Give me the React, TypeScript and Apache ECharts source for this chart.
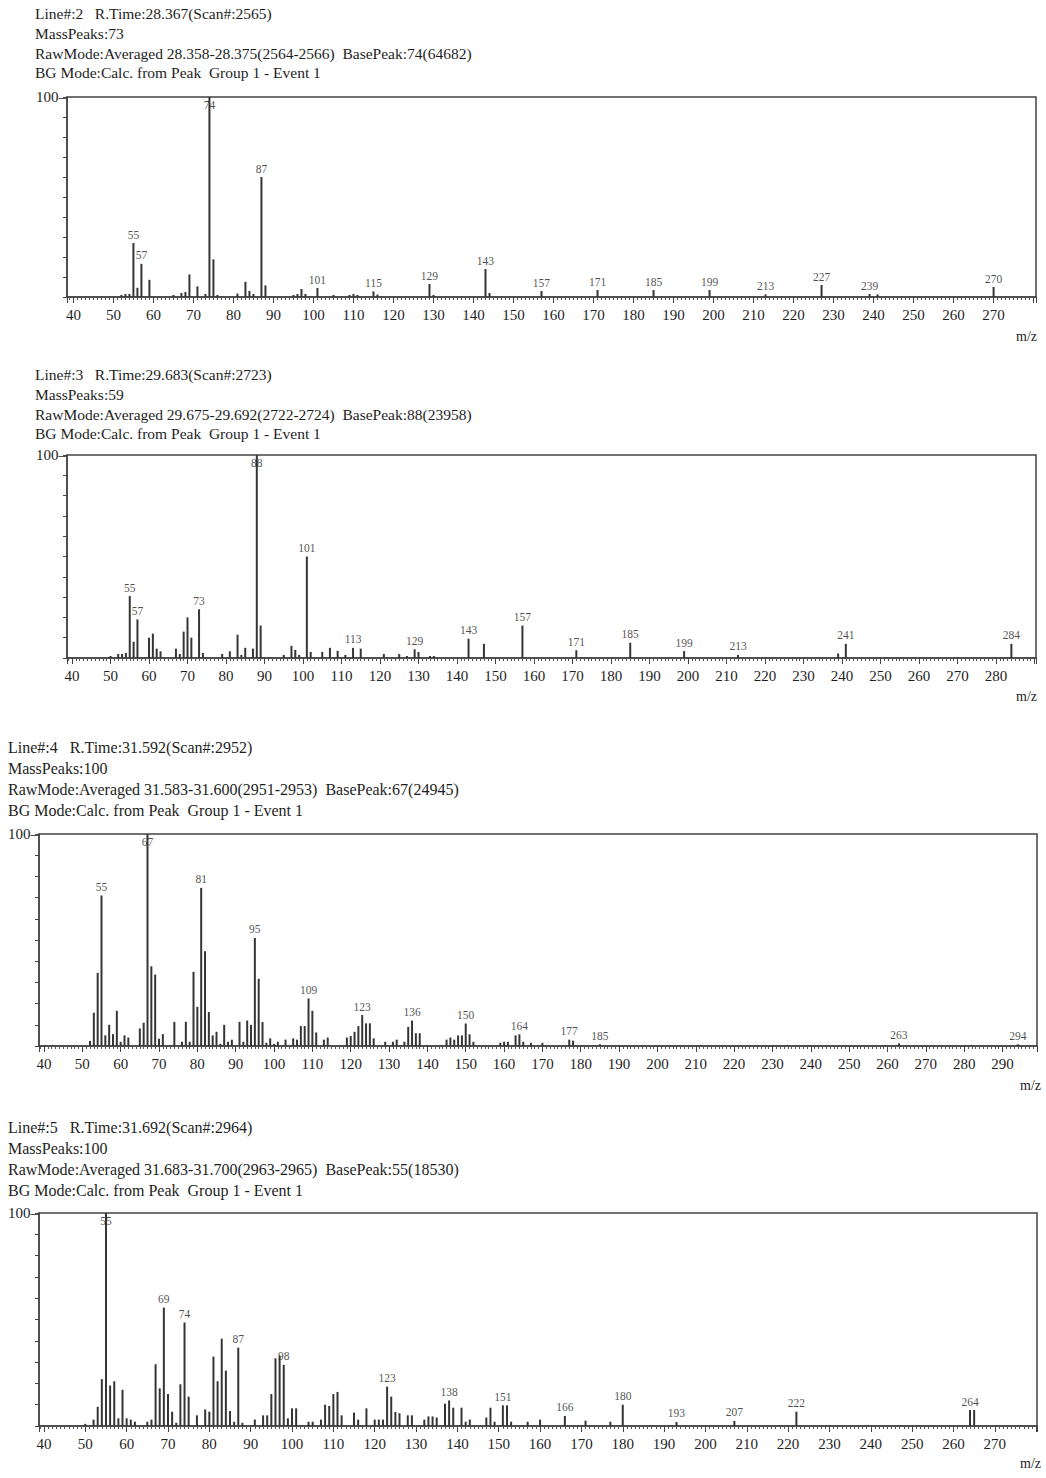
import React, { useEffect, useRef } from "react";
import * as echarts from "echarts";

// ---------- data ----------
const p1Header = [
  "Line#:2\u00a0\u00a0 R.Time:28.367(Scan#:2565)",
  "MassPeaks:73",
  "RawMode:Averaged 28.358-28.375(2564-2566)\u00a0 BasePeak:74(64682)",
  "BG Mode:Calc. from Peak\u00a0 Group 1 - Event 1",
];
const p1Peaks: number[][] = [
  [52, 1], [53, 1.5], [54, 1.5], [55, 27], [56, 4.6], [57, 16.6], [59, 8.6], [65, 1], [67, 2], [68, 2.5],
  [69, 11.3], [71, 5.3], [73, 1.5], [74, 100], [75, 18.8], [76, 1], [81, 1.7], [83, 7.6], [84, 3], [85, 1.5],
  [87, 60], [88, 5.8], [95, 1], [96, 1.5], [97, 4], [98, 1.5], [101, 4.5], [105, 1], [109, 1], [110, 1.5],
  [111, 1], [115, 2.8], [116, 1.2], [129, 6.5], [130, 1], [143, 14], [144, 2], [157, 3], [171, 3.5],
  [185, 3.5], [199, 3.5], [213, 1.3], [227, 6], [239, 1.5], [241, 1.3], [270, 5],
];
const p1Labels = [55, 57, 74, 87, 101, 115, 129, 143, 157, 171, 185, 199, 213, 227, 239, 270];

const p2Header = [
  "Line#:3\u00a0\u00a0 R.Time:29.683(Scan#:2723)",
  "MassPeaks:59",
  "RawMode:Averaged 29.675-29.692(2722-2724)\u00a0 BasePeak:88(23958)",
  "BG Mode:Calc. from Peak\u00a0 Group 1 - Event 1",
];
const p2Peaks: number[][] = [
  [50, 1], [52, 2], [53, 2], [54, 2.5], [55, 30.5], [56, 8], [57, 19], [60, 10], [61, 12], [62, 4.6],
  [63, 3.3], [67, 4.6], [68, 2], [69, 13], [70, 20], [71, 10], [73, 24], [74, 2.5], [79, 2], [81, 3.3],
  [83, 11.5], [84, 1.5], [85, 5], [87, 4.6], [88, 100], [89, 16], [95, 1.5], [97, 6], [98, 4], [99, 1.5],
  [101, 50], [102, 3], [105, 3], [107, 5], [109, 3.5], [111, 1.5], [113, 5], [115, 4.6], [121, 2], [125, 2],
  [127, 1], [129, 4.3], [130, 3], [133, 1], [134, 1], [143, 9.5], [147, 7], [157, 16], [171, 3.8], [185, 7.5],
  [199, 3.4], [213, 1.5], [239, 2.2], [241, 7], [284, 7],
];
const p2Labels = [55, 57, 73, 88, 101, 113, 129, 143, 157, 171, 185, 199, 213, 241, 284];

const p3Header = [
  "Line#:4\u00a0\u00a0 R.Time:31.592(Scan#:2952)",
  "MassPeaks:100",
  "RawMode:Averaged 31.583-31.600(2951-2953)\u00a0 BasePeak:67(24945)",
  "BG Mode:Calc. from Peak\u00a0 Group 1 - Event 1",
];
const p3Peaks: number[][] = [
  [52, 2.4], [53, 15.7], [54, 34.5], [55, 71], [56, 5], [57, 10], [58, 5.6], [59, 16.6], [60, 2], [61, 5],
  [62, 4], [65, 8.3], [66, 11], [67, 100], [68, 37.6], [69, 33.7], [70, 3.4], [71, 5.6], [74, 11.4], [76, 2],
  [77, 11.4], [78, 2], [79, 35], [80, 18.5], [81, 74.6], [82, 44.7], [83, 16], [84, 5], [85, 6.7], [86, 1],
  [87, 10], [88, 2], [89, 3], [91, 11.4], [92, 2], [93, 12], [94, 10], [95, 51], [96, 31.7], [97, 11.3],
  [98, 1.5], [99, 3.6], [100, 1], [101, 2], [103, 3], [105, 3.6], [106, 3], [107, 9.4], [108, 9.4], [109, 22.4],
  [110, 16.6], [111, 6.4], [113, 3], [114, 4], [119, 4], [120, 4.7], [121, 6.7], [122, 9.4], [123, 14.6], [124, 10.7],
  [125, 10.7], [126, 3.6], [129, 2], [131, 2], [132, 3], [134, 2], [135, 9], [136, 12], [137, 6], [138, 6],
  [145, 3], [146, 4], [147, 3], [148, 5], [149, 5], [150, 10.6], [151, 5.5], [152, 2], [159, 1.5], [160, 2],
  [161, 2], [163, 5], [164, 5.5], [165, 2], [167, 1.5], [170, 1.5], [177, 3], [178, 2.5], [185, 0.8], [263, 1.2],
  [294, 0.8],
];
const p3Labels = [55, 67, 81, 95, 109, 123, 136, 150, 164, 177, 185, 263, 294];

const p4Header = [
  "Line#:5\u00a0\u00a0 R.Time:31.692(Scan#:2964)",
  "MassPeaks:100",
  "RawMode:Averaged 31.683-31.700(2963-2965)\u00a0 BasePeak:55(18530)",
  "BG Mode:Calc. from Peak\u00a0 Group 1 - Event 1",
];
const p4Peaks: number[][] = [
  [50, 1], [52, 3], [53, 9], [54, 22], [55, 100], [56, 19], [57, 21], [58, 3.6], [59, 17], [60, 3.6],
  [61, 3], [62, 2], [65, 2], [66, 3], [67, 29], [68, 17.7], [69, 55.6], [70, 15], [71, 6.7], [72, 1.5],
  [73, 19.6], [74, 48.6], [75, 13.8], [77, 5], [79, 7.8], [80, 6.7], [81, 32.6], [82, 21], [83, 41], [84, 26],
  [85, 7], [86, 2], [87, 36.8], [88, 1.5], [91, 3], [93, 5], [94, 5], [95, 15], [96, 31.8], [97, 33],
  [98, 28.7], [99, 3.6], [100, 8.3], [101, 8.3], [104, 2], [105, 2], [107, 3], [108, 10], [109, 9.4], [110, 15],
  [111, 16], [112, 5], [115, 6.3], [116, 3], [118, 8.3], [120, 3], [121, 3], [122, 3], [123, 18.5], [124, 13.8],
  [125, 6.6], [126, 6], [128, 5], [129, 5], [132, 3], [133, 4.5], [134, 4.5], [135, 4], [137, 10.5], [138, 12],
  [139, 8.6], [141, 8.6], [142, 2], [143, 3], [147, 4], [148, 8.6], [149, 2], [151, 9.7], [152, 9.7], [153, 2],
  [157, 2], [160, 3], [166, 4.7], [171, 2.5], [177, 2], [180, 10], [193, 1.9], [207, 2.4], [222, 6.7], [264, 7.5],
  [265, 7.5],
];
const p4Labels = [55, 69, 74, 87, 98, 123, 138, 151, 166, 180, 193, 207, 222, 264];

const xRanges = [
  [38.4, 280.6],
  [38.7, 290.4],
  [38.7, 299.0],
  [38.8, 280.2],
];
const yTopLabel = "100";
const xAxisName = "m/z";

// ---------- layout ----------
const layout = [
  { grid: { left: 67, top: 97, width: 969, height: 200 }, headerX: 35, headerTop: 4, font: 15.5, lh: 19.7, mzX: 1016, mzTop: 329 },
  { grid: { left: 67, top: 455, width: 969, height: 203 }, headerX: 35, headerTop: 365, font: 15.5, lh: 19.7, mzX: 1016, mzTop: 689 },
  { grid: { left: 39, top: 834, width: 998, height: 212 }, headerX: 8, headerTop: 737, font: 16, lh: 21, mzX: 1020, mzTop: 1078 },
  { grid: { left: 39, top: 1213, width: 998, height: 213 }, headerX: 8, headerTop: 1117, font: 16, lh: 21, mzX: 1020, mzTop: 1456 },
];

const FONT = '"Liberation Serif", "Times New Roman", serif';
const INK = "#1e1e1e";
const AXIS = "#444";

export default function App() {
  const ref = useRef<HTMLDivElement>(null);

  useEffect(() => {
    if (!ref.current) return;
    const chart = echarts.init(ref.current, undefined, { renderer: "svg" });

    const panels = [
      { header: p1Header, peaks: p1Peaks, labels: p1Labels },
      { header: p2Header, peaks: p2Peaks, labels: p2Labels },
      { header: p3Header, peaks: p3Peaks, labels: p3Labels },
      { header: p4Header, peaks: p4Peaks, labels: p4Labels },
    ];

    const grids: any[] = [];
    const xAxes: any[] = [];
    const yAxes: any[] = [];
    const series: any[] = [];
    const graphics: any[] = [];

    panels.forEach((p, i) => {
      const L = layout[i];
      const [xMin, xMax] = xRanges[i];
      grids.push({
        ...L.grid,
        show: true,
        borderColor: AXIS,
        borderWidth: 1.5,
        backgroundColor: "transparent",
      });
      xAxes.push({
        gridIndex: i,
        type: "value",
        min: xMin,
        max: xMax,
        splitNumber: 24,
        minInterval: 10,
        maxInterval: 10,
        axisLine: { show: true, lineStyle: { color: AXIS, width: 1.5 } },
        axisTick: { show: true, length: 6, lineStyle: { color: AXIS, width: 1 } },
        minorTick: { show: true, splitNumber: 10, length: 3, lineStyle: { color: "#555", width: 1 } },
        axisLabel: {
          formatter: (v: number) =>
            Math.abs(v % 10) < 1e-6 && v <= xMax - 3 ? String(v) : "",
          fontFamily: FONT,
          fontSize: 15,
          color: INK,
          margin: 10,
        },
        splitLine: { show: false },
        minorSplitLine: { show: false },
      });
      yAxes.push({
        gridIndex: i,
        type: "value",
        min: 0,
        max: 100,
        interval: 10,
        axisLine: { show: true, lineStyle: { color: AXIS, width: 1.5 } },
        axisTick: { show: true, length: 4, lineStyle: { color: AXIS } },
        axisLabel: {
          formatter: (v: number) => (String(v) === yTopLabel ? yTopLabel + "\u2013" : ""),
          fontFamily: FONT,
          fontSize: 15,
          color: INK,
          margin: 1,
        },
        splitLine: { show: false },
      });
      series.push({
        type: "custom",
        xAxisIndex: i,
        yAxisIndex: i,
        data: p.peaks,
        encode: { x: 0, y: 1 },
        renderItem: (_params: any, api: any) => {
          const x = api.value(0);
          const y = api.value(1);
          const top = api.coord([x, y]);
          const base = api.coord([x, 0]);
          return {
            type: "line",
            shape: { x1: top[0], y1: top[1], x2: base[0], y2: base[1] },
            style: { stroke: "#353535", lineWidth: 2 },
          };
        },
      });
      const lookup = new Map(p.peaks.map((d) => [d[0], d[1]]));
      series.push({
        type: "scatter",
        xAxisIndex: i,
        yAxisIndex: i,
        symbol: "circle",
        symbolSize: 1,
        itemStyle: { color: "transparent" },
        label: {
          show: true,
          position: "top",
          distance: 2,
          formatter: (prm: any) => String(prm.value[0]),
          fontFamily: FONT,
          fontSize: 11.5,
          color: INK,
        },
        data: p.labels.map((mz) => {
          const v = lookup.get(mz) ?? 0;
          return v >= 95
            ? { value: [mz, v], label: { position: "bottom", distance: 1 } }
            : { value: [mz, v] };
        }),
      });
      graphics.push({
        type: "text",
        left: L.headerX,
        top: L.headerTop,
        style: {
          text: p.header.join("\n"),
          font: `${L.font}px ${FONT}`,
          lineHeight: L.lh,
          fill: INK,
        },
      });
      graphics.push({
        type: "text",
        left: L.mzX,
        top: L.mzTop,
        style: { text: xAxisName, font: `14px ${FONT}`, fill: INK },
      });
    });

    chart.setOption({
      animation: false,
      backgroundColor: "#ffffff",
      grid: grids,
      xAxis: xAxes,
      yAxis: yAxes,
      series,
      graphic: graphics,
    });

    return () => chart.dispose();
  }, []);

  return (
    <div
      ref={ref}
      style={{ position: "absolute", left: 0, top: 0, width: 1046, height: 1478, background: "#fff" }}
    />
  );
}
